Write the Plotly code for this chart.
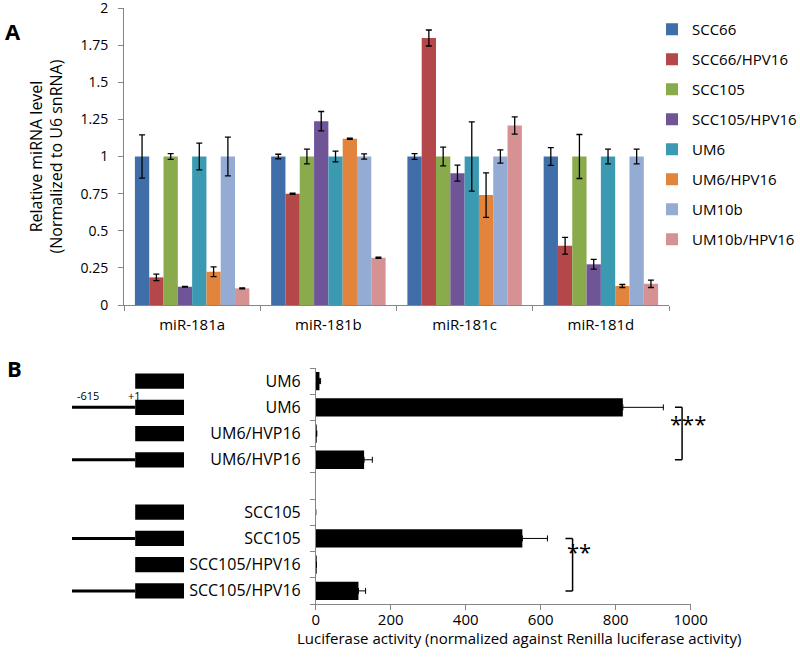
import plotly.graph_objects as go

# Panel A: relative miRNA levels
mirnas = ["miR-181a", "miR-181b", "miR-181c", "miR-181d"]
cell_lines = ["SCC66", "SCC66/HPV16", "SCC105", "SCC105/HPV16",
              "UM6", "UM6/HPV16", "UM10b", "UM10b/HPV16"]
levels = [
    [1.00, 1.00, 1.00, 1.00],
    [0.186, 0.749, 1.798, 0.399],
    [1.00, 1.00, 1.00, 1.00],
    [0.123, 1.238, 0.888, 0.274],
    [1.00, 1.00, 1.00, 1.00],
    [0.224, 1.119, 0.740, 0.128],
    [1.00, 1.00, 1.00, 1.00],
    [0.112, 0.318, 1.209, 0.143],
]
level_err = [
    [0.145, 0.015, 0.020, 0.060],
    [0.022, 0.004, 0.054, 0.056],
    [0.020, 0.050, 0.063, 0.148],
    [0.003, 0.065, 0.054, 0.033],
    [0.090, 0.036, 0.233, 0.050],
    [0.033, 0.004, 0.150, 0.010],
    [0.130, 0.018, 0.045, 0.050],
    [0.003, 0.004, 0.058, 0.025],
]
colors = ["#3f6ea8", "#b3474a", "#8aab4c", "#6f5598",
          "#3b9ab2", "#e3843c", "#94abd3", "#d69293"]

# Panel B: luciferase reporter assay (blank label = spacer row)
row_labels = ["UM6", "UM6", "UM6/HVP16", "UM6/HVP16", "",
              "SCC105", "SCC105", "SCC105/HPV16", "SCC105/HPV16"]
has_promoter = [False, True, False, True, None, False, True, False, True]
luc = [10, 819, 2, 129, None, 0, 551, 1, 114]
luc_err = [3, 108, 1, 22, None, 0, 67, 1, 19]

fig = go.Figure()

for name, vals, errs, col in zip(cell_lines, levels, level_err, colors):
    fig.add_trace(go.Bar(
        x=mirnas, y=vals, name=name, marker_color=col, marker_line_width=0,
        legendgroup=name,
        error_y=dict(type="data", array=errs, color="black", thickness=1.3, width=3),
        xaxis="x", yaxis="y"))

rows = list(range(len(row_labels)))
fig.add_trace(go.Bar(
    x=luc, y=rows, orientation="h", width=0.7, marker_color="black",
    marker_line_width=0, showlegend=False,
    error_x=dict(type="data", array=luc_err, arrayminus=[0] * len(rows),
                 symmetric=False, color="black", thickness=1, width=3),
    xaxis="x2", yaxis="y3"))
# invisible companion so the boundary-tick axis gets drawn
fig.add_trace(go.Scatter(
    x=luc, y=rows, mode="markers", marker_opacity=0, showlegend=False,
    hoverinfo="skip", xaxis="x2", yaxis="y2"))

font = "Open Sans, sans-serif"
axis_gray = "#868686"

# construct schematic next to panel B rows
for i, prom in enumerate(has_promoter):
    if prom is None:
        continue
    fig.add_shape(type="rect", xref="paper", yref="y3",
                  x0=0.169, x1=0.230, y0=i - 0.29, y1=i + 0.29,
                  fillcolor="black", line_width=0)
    if prom:
        fig.add_shape(type="line", xref="paper", yref="y3",
                      x0=0.09, x1=0.169, y0=i, y1=i,
                      line=dict(color="black", width=3))

# significance brackets
for top, bottom in [(1, 3), (6, 8)]:
    xb = 977 if top == 1 else 685
    for y in (top, bottom):
        fig.add_shape(type="line", xref="x2", yref="y3", x0=xb - 19, x1=xb,
                      y0=y, y1=y, line=dict(color="black", width=1.5))
    fig.add_shape(type="line", xref="x2", yref="y3", x0=xb, x1=xb,
                  y0=top, y1=bottom, line=dict(color="black", width=1.5))

annotations = [
    dict(text="<b>A</b>", x=0.004, y=0.978, xref="paper", yref="paper",
         showarrow=False, font=dict(size=22, color="black"), xanchor="left"),
    dict(text="<b>B</b>", x=0.006, y=0.44, xref="paper", yref="paper",
         showarrow=False, font=dict(size=22, color="black"), xanchor="left"),
    dict(text="-615", x=0.094, y=1 - 395 / 658, xref="paper", yref="paper",
         showarrow=False, font=dict(size=11, color="black")),
    dict(text="+1", x=0.1575, y=1 - 395 / 658, xref="paper", yref="paper",
         showarrow=False, font=dict(size=11, color="black")),
    dict(text="***", x=708 / 800, y=1 - 440 / 658, xref="paper", yref="paper",
         showarrow=False, font=dict(size=22, color="black")),
    dict(text="**", x=593 / 800, y=1 - 568 / 658, xref="paper", yref="paper",
         showarrow=False, font=dict(size=22, color="black")),
    dict(text="Luciferase activity (normalized against Renilla luciferase activity)",
         x=519 / 800, y=1 - 650 / 658, xref="paper", yref="paper",
         showarrow=False, font=dict(size=15, color="black")),
]

b_domain = [1 - 604 / 658, 1 - 368 / 658]

fig.update_layout(
    width=800, height=658,
    margin=dict(l=0, r=0, t=0, b=0, autoexpand=False),
    paper_bgcolor="white", plot_bgcolor="white",
    font=dict(family=font, color="black"),
    barmode="group", bargap=0.16, bargroupgap=0,
    xaxis=dict(domain=[124 / 800, 669 / 800], type="category",
               showline=True, linecolor=axis_gray, linewidth=1,
               ticks="outside", tickson="boundaries", ticklen=5, tickcolor=axis_gray,
               tickfont=dict(size=15), ticklabelstandoff=6, anchor="y"),
    yaxis=dict(domain=[1 - 305 / 658, 1 - 8 / 658], range=[0, 2],
               tickvals=[0, 0.25, 0.5, 0.75, 1, 1.25, 1.5, 1.75, 2],
               ticktext=["0", "0.25", "0.5", "0.75", "1", "1.25", "1.5", "1.75", "2"],
               showline=True, linecolor=axis_gray, linewidth=1,
               ticks="outside", ticklen=5, tickcolor=axis_gray,
               showgrid=False, zeroline=False, tickfont=dict(size=14),
               ticklabelstandoff=7, ticklabeloverflow="allow",
               title=dict(text="Relative miRNA level<br>(Normalized to U6 snRNA)",
                          font=dict(size=16), standoff=13),
               anchor="x"),
    xaxis2=dict(domain=[315.7 / 800, 690.7 / 800], range=[0, 1000],
                tickvals=[0, 200, 400, 600, 800, 1000],
                showline=True, linecolor=axis_gray, linewidth=1,
                ticks="outside", ticklen=5, tickcolor=axis_gray,
                showgrid=False, zeroline=False, tickfont=dict(size=15),
                ticklabelstandoff=-3, anchor="y2"),
    # tick marks between rows
    yaxis2=dict(domain=b_domain, range=[8.5, -0.5],
                tickvals=[r - 0.5 for r in rows] + [8.5], showticklabels=False,
                ticks="outside", ticklen=5, tickcolor=axis_gray,
                showline=True, linecolor=axis_gray, linewidth=1,
                showgrid=False, zeroline=False, anchor="x2"),
    # row labels centred on each bar
    yaxis3=dict(domain=b_domain, range=[8.5, -0.5], overlaying="y2", side="left",
                tickvals=rows, ticktext=row_labels, ticks="",
                showline=False, showgrid=False, zeroline=False,
                tickfont=dict(size=16), ticklabelstandoff=14, anchor="x2"),
    legend=dict(x=652 / 800, y=1 - 13 / 658, xanchor="left", yanchor="top",
                traceorder="grouped", tracegroupgap=7.5,
                font=dict(size=15), bgcolor="rgba(0,0,0,0)"),
    annotations=annotations,
)

# the page body has a default 8px margin; drop it so the figure fills the window
fig.write_html("out.html", config={"displayModeBar": False},
               post_script="document.body.style.margin = '0';")
